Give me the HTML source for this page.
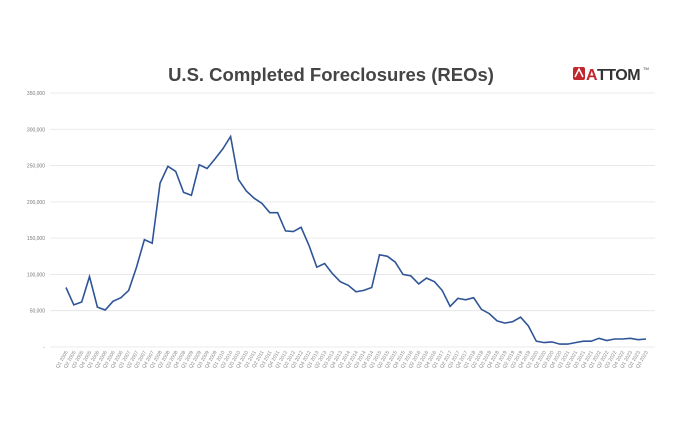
<!DOCTYPE html>
<html><head><meta charset="utf-8"><style>
body{margin:0;background:#fff;width:700px;height:420px;overflow:hidden;font-family:"Liberation Sans",sans-serif}
</style></head><body>
<svg id="s" width="700" height="420" xmlns="http://www.w3.org/2000/svg">
<text x="331" y="81" text-anchor="middle" font-family="Liberation Sans,sans-serif" font-size="18.5" font-weight="bold" fill="#454545">U.S. Completed Foreclosures (REOs)</text>
<g transform="translate(573,65)">
<rect x="0" y="2" width="12" height="13" rx="2" fill="#c0282d"/>
<path d="M2 12 L6 4 L10 12" stroke="#fff" stroke-width="1.5" fill="none"/>
<text x="13" y="15" font-family="Liberation Sans,sans-serif" font-size="16" font-weight="bold" fill="#c0282d" letter-spacing="-0.5">A</text>
<text x="24" y="15" font-family="Liberation Sans,sans-serif" font-size="16" font-weight="bold" fill="#333" letter-spacing="-0.5">TTOM</text>
<text x="70" y="5" font-size="4" fill="#333">TM</text>
</g>
<g id="g"></g>
</svg>
<script>
var g=document.getElementById('g'),h='';
for(var i=0;i<=7;i++){var y=347-i*36.29;h+='<line x1="50" x2="655" y1="'+y+'" y2="'+y+'" stroke="#e4e4e4" stroke-width="0.8"/>';
h+='<text x="45" y="'+(y+2)+'" text-anchor="end" font-size="5" fill="#777">'+(i?(i*50)+',000':'-')+'</text>';}
var v=[82,58,62,97,55,51,63,68,78,110,148,143,226,249,242,213,209,251,246,259,273,290,231,215,205,198,185,185,160,159,165,140,110,115,101,90,85,76,78,82,127,125,117,100,98,87,95,90,78,56,67,65,68,52,46,36,33,35,41,29,8,6,7,4,4,6,8,8,12,9,11,11,12,10,11];
var p=[],n=v.length,st=(646-66)/(n-1);
for(var k=0;k<n;k++){var x=66+k*st;p.push(x.toFixed(1)+','+(347-v[k]*0.7257).toFixed(1));
var q='Q'+(k%4+1)+' '+(2005+Math.floor(k/4));
h+='<text transform="translate('+(x+2)+',352) rotate(-60)" text-anchor="end" font-size="5" fill="#888">'+q+'</text>';}
h+='<polyline points="'+p.join(' ')+'" fill="none" stroke="#2f5597" stroke-width="1.6"/>';
g.innerHTML=h;
</script>
</body></html>
